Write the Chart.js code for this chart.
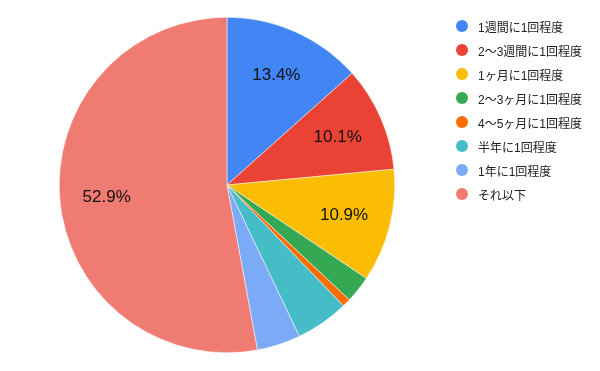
<!DOCTYPE html>
<html>
<head>
<meta charset="utf-8">
<script src="https://cdn.jsdelivr.net/npm/chart.js@4.4.0/dist/chart.umd.min.js"></script>
<style>
  body { margin: 0; background: #fff; }
  #wrap { position: relative; width: 600px; height: 371px; }
  #legend { position: absolute; left: 456px; top: 14px; font-family: "Liberation Sans", "Noto Sans CJK JP", sans-serif; font-size: 12px; color: #222; }
  .item { height: 24px; display: flex; align-items: center; }
  .dot { width: 12px; height: 12px; border-radius: 50%; margin-right: 10px; }
</style>
</head>
<body>
<div id="wrap">
  <canvas id="pie" width="600" height="371"></canvas>
  <div id="legend"></div>
</div>
<script>
// --- datos ---
const labels = ['1週間に1回程度', '2～3週間に1回程度', '1ヶ月に1回程度', '2～3ヶ月に1回程度', '4～5ヶ月に1回程度', '半年に1回程度', '1年に1回程度', 'それ以下'];
const values = [13.4, 10.1, 10.9, 2.6, 0.8, 5.1, 4.2, 52.9];
const colors = ['#4285f4', '#ea4335', '#fbbc04', '#34a853', '#ff6d01', '#46bdc6', '#7baaf7', '#f07b72'];

// leyenda
const leg = document.getElementById('legend');
labels.forEach((l, i) => {
  const d = document.createElement('div');
  d.className = 'item';
  d.innerHTML = `<span class="dot" style="background:${colors[i]}"></span>${l}`;
  leg.appendChild(d);
});

// porcentajes dentro de las porciones grandes
const pctLabels = {
  id: 'pctLabels',
  afterDatasetsDraw(chart) {
    const ctx = chart.ctx;
    const meta = chart.getDatasetMeta(0);
    ctx.save();
    ctx.font = '17px "Liberation Sans", Arial, sans-serif';
    ctx.fillStyle = '#111';
    ctx.textAlign = 'center';
    ctx.textBaseline = 'middle';
    meta.data.forEach((arc, i) => {
      if (values[i] < 8) return;
      const mid = (arc.startAngle + arc.endAngle) / 2;
      const r = arc.outerRadius * 0.72;
      ctx.fillText(values[i].toFixed(1) + '%', arc.x + Math.cos(mid) * r, arc.y + Math.sin(mid) * r + 1);
    });
    ctx.restore();
  }
};

new Chart(document.getElementById('pie'), {
  type: 'pie',
  data: {
    labels: labels,
    datasets: [{ data: values, backgroundColor: colors, borderColor: '#fff', borderWidth: 0.5 }]
  },
  options: {
    responsive: false,
    animation: false,
    layout: { padding: { top: 17, bottom: 18, left: 59, right: 205 } },
    plugins: { legend: { display: false }, tooltip: { enabled: false } }
  },
  plugins: [pctLabels]
});
</script>
</body>
</html>
